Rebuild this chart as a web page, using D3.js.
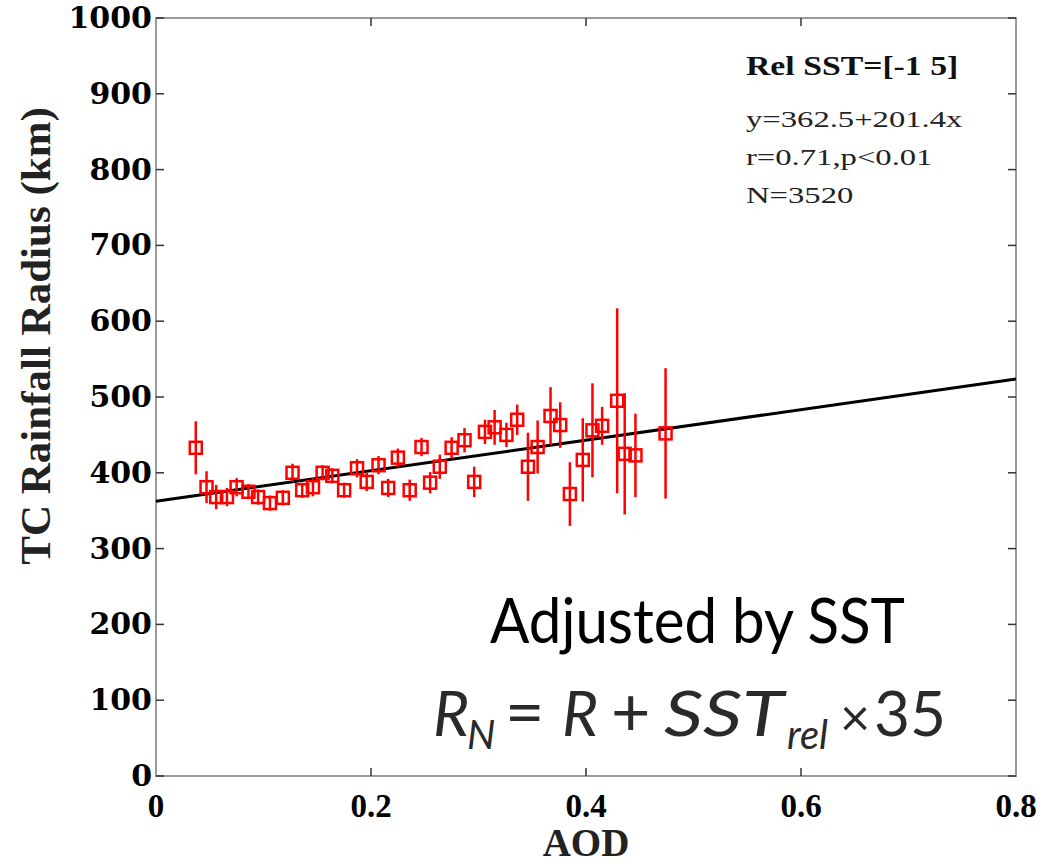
<!DOCTYPE html>
<html>
<head>
<meta charset="utf-8">
<script src="https://cdn.jsdelivr.net/npm/d3@7"></script>
<style>
  body { margin: 0; background: #fff; }
</style>
</head>
<body>
<div id="chart"></div>
<script>
// binned AOD vs rainfall radius (km), +/- error
const aod = [0.037, 0.047, 0.056, 0.066, 0.075, 0.086, 0.095, 0.106, 0.118, 0.127,
  0.136, 0.146, 0.155, 0.164, 0.175, 0.187, 0.196, 0.207, 0.216, 0.225,
  0.236, 0.247, 0.255, 0.264, 0.275, 0.287, 0.296, 0.306, 0.315, 0.326,
  0.336, 0.346, 0.355, 0.367, 0.376, 0.385, 0.397, 0.406, 0.415, 0.429,
  0.436, 0.446, 0.474];
const radius = [433, 381, 368, 368, 381, 375, 368, 360, 367, 400,
  377, 381, 400, 396, 377, 406, 388, 410, 380, 420,
  377, 434, 387, 408, 433, 443, 388, 454, 460, 450,
  470, 408, 434, 475, 463, 372, 417, 456, 462, 495,
  425, 423, 452];
const err = [35, 21, 16, 12, 12, 10, 10, 10, 10, 12,
  10, 12, 10, 10, 10, 12, 12, 12, 12, 12,
  14, 12, 14, 16, 14, 16, 20, 16, 23, 16,
  20, 45, 35, 38, 30, 42, 55, 62, 25, 122,
  80, 55, 86];

const intercept = 362.5;
const slope = 201.4;
const xTicks = [0, 0.2, 0.4, 0.6, 0.8];
const yTicks = [0, 100, 200, 300, 400, 500, 600, 700, 800, 900, 1000];
const statLines = ["y=362.5+201.4x", "r=0.71,p<0.01", "N=3520"];

const width = 1048;
const height = 866;
const margin = { top: 18, right: 32, bottom: 90, left: 156 };
const red = "#ff0000";

const svg = d3.select("#chart").append("svg")
  .attr("width", width).attr("height", height)
  .attr("viewBox", [0, 0, width, height]);

const x = d3.scaleLinear().domain([0, 0.8]).range([margin.left, width - margin.right]);
const y = d3.scaleLinear().domain([0, 1000]).range([height - margin.bottom, margin.top]);

// frame
svg.append("rect")
  .attr("x", margin.left).attr("y", margin.top)
  .attr("width", width - margin.left - margin.right)
  .attr("height", height - margin.top - margin.bottom)
  .attr("fill", "none").attr("stroke", "#9a9a9a").attr("stroke-width", 2);

// inward ticks on all four sides
const tickLen = 8;
const yAxis = (g, dx) => g.selectAll("line").data(yTicks).join("line")
  .attr("x1", dx).attr("x2", dx + (dx === margin.left ? tickLen : -tickLen))
  .attr("y1", (d) => y(d)).attr("y2", (d) => y(d))
  .attr("stroke", "#333").attr("stroke-width", 1.5);
svg.append("g").call(yAxis, margin.left);
svg.append("g").call(yAxis, width - margin.right);

const xAxisTicks = (g, yy, dir) => g.selectAll("line").data(xTicks.slice(1, -1)).join("line")
  .attr("x1", (d) => x(d)).attr("x2", (d) => x(d))
  .attr("y1", yy).attr("y2", yy + dir * tickLen)
  .attr("stroke", "#333").attr("stroke-width", 1.5);
svg.append("g").call(xAxisTicks, height - margin.bottom, -1);
svg.append("g").call(xAxisTicks, margin.top, 1);

// tick labels
svg.append("g").selectAll("text").data(yTicks).join("text")
  .attr("x", margin.left - 4)
  .attr("y", (d) => y(d) + 10)
  .attr("text-anchor", "end")
  .attr("font-family", "DejaVu Serif")
  .attr("font-weight", "bold")
  .attr("font-size", 30)
  .text((d) => d);

svg.append("g").selectAll("text").data(xTicks).join("text")
  .attr("x", (d) => x(d))
  .attr("y", height - margin.bottom + 41)
  .attr("text-anchor", "middle")
  .attr("font-family", "Liberation Serif")
  .attr("font-weight", "bold")
  .attr("font-size", 33)
  .text((d) => d);

// axis titles
svg.append("text")
  .attr("transform", "translate(50,336) rotate(-90)")
  .attr("text-anchor", "middle")
  .attr("font-family", "Liberation Serif")
  .attr("font-weight", "bold")
  .attr("font-size", 43)
  .attr("fill", "#222")
  .text("TC Rainfall Radius (km)");

svg.append("text")
  .attr("x", x(0.4)).attr("y", 856)
  .attr("text-anchor", "middle")
  .attr("font-family", "Liberation Serif")
  .attr("font-weight", "bold")
  .attr("font-size", 39)
  .attr("fill", "#222")
  .text("AOD");

// regression line
const fit = d3.line().x((d) => x(d)).y((d) => y(intercept + slope * d));
svg.append("path")
  .datum(x.domain())
  .attr("fill", "none")
  .attr("stroke", "#000")
  .attr("stroke-width", 3)
  .attr("d", fit);

// error bars + square markers
const pts = svg.append("g").selectAll("g").data(d3.range(aod.length)).join("g");
pts.append("line")
  .attr("x1", (i) => x(aod[i])).attr("x2", (i) => x(aod[i]))
  .attr("y1", (i) => y(radius[i] - err[i])).attr("y2", (i) => y(radius[i] + err[i]))
  .attr("stroke", red).attr("stroke-width", 2.5);
pts.append("rect")
  .attr("x", (i) => x(aod[i]) - 6).attr("y", (i) => y(radius[i]) - 6)
  .attr("width", 12).attr("height", 12)
  .attr("fill", "none").attr("stroke", red).attr("stroke-width", 2.5);

// stats box
svg.append("text")
  .attr("transform", "translate(746,75) scale(1.25,1)")
  .attr("font-family", "Liberation Serif")
  .attr("font-weight", "bold")
  .attr("font-size", 27)
  .attr("fill", "#111")
  .text("Rel SST=[-1 5]");

svg.append("g").selectAll("text").data(statLines).join("text")
  .attr("transform", (d, i) => `translate(746,${127 + i * 38}) scale(1.42,1)`)
  .attr("font-family", "Liberation Serif")
  .attr("font-size", 23)
  .attr("fill", "#222")
  .text((d) => d);

// adjustment note
svg.append("text")
  .attr("x", 490).attr("y", 643)
  .attr("font-family", "Lato")
  .attr("font-size", 62)
  .attr("textLength", 415)
  .attr("lengthAdjust", "spacingAndGlyphs")
  .attr("fill", "#000")
  .text("Adjusted by SST");

// R_N = R + SST_rel x 35, pieces placed along the line
const eq = svg.append("text")
  .attr("y", 736)
  .attr("font-family", "Lato")
  .attr("font-size", 62)
  .attr("fill", "#2a2a2a");
eq.append("tspan").attr("x", 433).attr("font-style", "italic").text("R");
eq.append("tspan").attr("x", 467).attr("dy", 13).attr("font-style", "italic").attr("font-size", 40).text("N");
eq.append("tspan").attr("x", 505).attr("dy", -13).attr("font-size", 68).text("=");
eq.append("tspan").attr("x", 562).attr("font-style", "italic").text("R");
eq.append("tspan").attr("x", 611).attr("font-size", 68).text("+");
eq.append("tspan").attr("x", 664).attr("font-style", "italic").attr("textLength", 120).attr("lengthAdjust", "spacingAndGlyphs").text("SST");
eq.append("tspan").attr("x", 787).attr("dy", 13).attr("font-style", "italic").attr("font-size", 40).text("rel");
eq.append("tspan").attr("x", 840).attr("dy", -13).attr("font-size", 52).text("×");
eq.append("tspan").attr("x", 874).attr("textLength", 72).attr("lengthAdjust", "spacingAndGlyphs").text("35");
</script>
</body>
</html>
